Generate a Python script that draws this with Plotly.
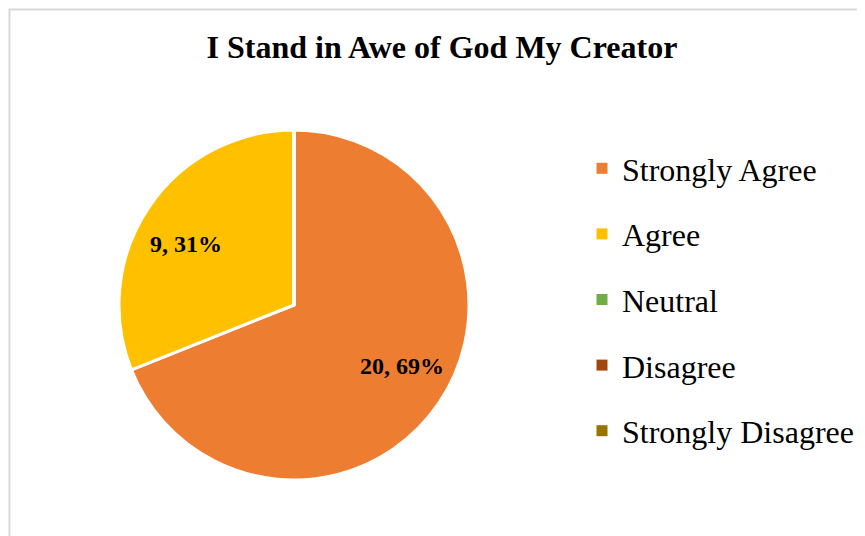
import math
import plotly.graph_objects as go

categories = ["Strongly Agree", "Agree", "Neutral", "Disagree", "Strongly Disagree"]
counts = [20, 9, 0, 0, 0]
colors = ["#ED7D31", "#FFC000", "#70AD47", "#9E480E", "#997300"]
title_text = "I Stand in Awe of God My Creator"

total = sum(counts)
labels_text = [f"{v}, {round(100 * v / total)}%" if v else "" for v in counts]

W, H = 865, 536
FONT = "Liberation Serif, Times New Roman, serif"

# pie placement (figure pixels)
PX0, PX1, PY0, PY1 = 111, 461, 122, 472
CX, CY, R = (PX0 + PX1) / 2, (PY0 + PY1) / 2, (PX1 - PX0) / 2

fig = go.Figure()
fig.add_trace(go.Pie(
    labels=categories,
    values=counts,
    textinfo="none",
    marker=dict(colors=colors, line=dict(color="white", width=3)),
    sort=False,
    direction="clockwise",
    rotation=0,
    showlegend=False,
    hoverinfo="label+value+percent",
    domain=dict(x=[PX0 / W, PX1 / W], y=[1 - PY1 / H, 1 - PY0 / H]),
))

# data labels placed near each slice's mid-angle
annotations = []
cum = 0
for v, t in zip(counts, labels_text):
    if v:
        mid = 2 * math.pi * (cum + v / 2) / total - math.radians(4.5)
        lx = CX + 0.71 * R * math.sin(mid)
        ly = CY - 0.71 * R * math.cos(mid)
        annotations.append(dict(
            x=lx / W, y=1 - ly / H, xref="paper", yref="paper",
            text=f"<b>{t}</b>", showarrow=False,
            font=dict(family=FONT, size=24, color="black"),
            xanchor="center", yanchor="middle",
        ))
    cum += v

for i, (cat, col) in enumerate(zip(categories, colors)):
    fig.add_trace(go.Scatter(
        x=[None], y=[None], mode="markers", name=cat,
        marker=dict(symbol="square", size=11, color=col),
        legendgroup=f"g{i}", showlegend=True, hoverinfo="skip",
    ))

fig.update_layout(
    width=W, height=H,
    margin=dict(l=0, r=0, t=0, b=0),
    paper_bgcolor="white",
    plot_bgcolor="white",
    xaxis=dict(visible=False),
    yaxis=dict(visible=False),
    title=dict(
        text=f"<b>{title_text}</b>",
        font=dict(family=FONT, size=32, color="black"),
        x=434 / W, xanchor="center",
        y=1 - 39 / H, yanchor="middle",
    ),
    legend=dict(
        x=574 / W, xanchor="left",
        y=1 - 133 / H, yanchor="top",
        font=dict(family=FONT, size=32, color="black"),
        traceorder="grouped",
        tracegroupgap=21,
        bgcolor="rgba(0,0,0,0)",
    ),
    annotations=annotations,
    shapes=[dict(
        type="rect", xref="paper", yref="paper",
        x0=1.5 / W, x1=1.05, y0=-0.05, y1=1 - 1.5 / H,
        line=dict(color="#D9D9D9", width=2),
        fillcolor="rgba(0,0,0,0)", layer="below",
    )],
)

fig.write_html("out.html")
